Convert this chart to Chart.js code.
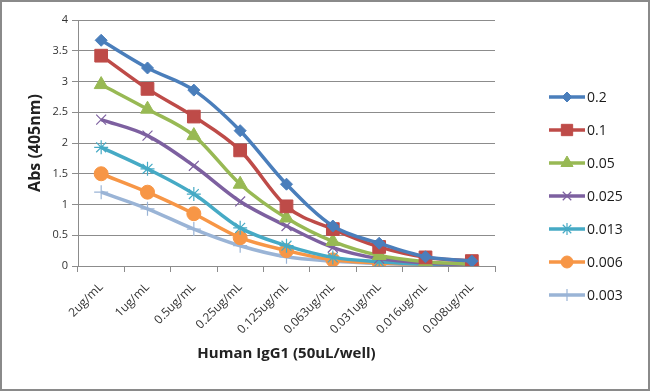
<!DOCTYPE html>
<html><head><meta charset="utf-8">
<script src="https://cdn.jsdelivr.net/npm/chart.js@4/dist/chart.umd.min.js"></script>
<style>html,body{margin:0;padding:0;background:#fff}#wrap{width:650px;height:391px;position:relative}</style>
</head><body><div id="wrap"><canvas id="c" width="650" height="391"></canvas></div>
<script>
const categories = ["2ug/mL","1ug/mL","0.5ug/mL","0.25ug/mL","0.125ug/mL","0.063ug/mL","0.031ug/mL","0.016ug/mL","0.008ug/mL"];
const seriesNames = ["0.2","0.1","0.05","0.025","0.013","0.006","0.003"];
const s02   = [3.67, 3.22, 2.86, 2.20, 1.33, 0.65, 0.37, 0.15, 0.08];
const s01   = [3.42, 2.88, 2.43, 1.88, 0.97, 0.60, 0.31, 0.14, 0.08];
const s005  = [2.95, 2.55, 2.12, 1.33, 0.78, 0.40, 0.17, 0.07, 0.03];
const s0025 = [2.38, 2.12, 1.63, 1.05, 0.65, 0.30, 0.12, 0.05, 0.02];
const s0013 = [1.93, 1.58, 1.17, 0.62, 0.33, 0.14, 0.07, 0.03, 0.02];
const s0006 = [1.50, 1.20, 0.85, 0.46, 0.25, 0.10, 0.05, 0.03, 0.01];
const s0003 = [1.20, 0.93, 0.60, 0.33, 0.15, 0.08, 0.04, 0.02, 0.01];
const yTicks = [0,0.5,1,1.5,2,2.5,3,3.5,4];

const values = [s02,s01,s005,s0025,s0013,s0006,s0003];
const colors = ["#4a7ebb","#be4b48","#98b954","#7d60a0","#46aac5","#f79646","#9ab4d6"];
const styles = ["rectRot","rect","triangle","crossRot","star","circle","cross"];
const radii  = [6,9,8,7,7,7,7];

const datasets = values.map((v,i)=>({
  label: seriesNames[i], data: v,
  borderColor: colors[i], backgroundColor: colors[i],
  borderWidth: 3.5, pointStyle: styles[i], pointRadius: radii[i],
  pointBorderColor: colors[i], pointBackgroundColor: colors[i],
  pointBorderWidth: (styles[i]==="crossRot"||styles[i]==="star"||styles[i]==="cross")?1.2:1,
  tension: 0.2, cubicInterpolationMode: 'monotone'
}));

const frame = {
  id:'frame',
  afterDraw(chart){
    const ctx = chart.ctx;
    ctx.save();
    ctx.strokeStyle = '#8a8a8a'; ctx.lineWidth = 2;
    ctx.strokeRect(1,1,648,389);
    const x0 = 549, x1 = 585, ys = [97,130,163,196,229,262,295];
    chart.data.datasets.forEach((d,i)=>{
      const y = ys[i];
      ctx.strokeStyle = d.borderColor; ctx.lineWidth = 3.5;
      ctx.beginPath(); ctx.moveTo(x0,y); ctx.lineTo(x1,y); ctx.stroke();
      ctx.fillStyle = d.borderColor; ctx.strokeStyle = d.borderColor;
      ctx.lineWidth = d.pointBorderWidth;
      Chart.helpers.drawPoint(ctx,{pointStyle:d.pointStyle, radius: d.pointRadius-1, borderWidth:d.pointBorderWidth, rotation:0}, (x0+x1)/2, y);
      ctx.fillStyle = '#1a1a1a';
      ctx.font = '14px "Open Sans", Lato, sans-serif';
      ctx.textBaseline = 'middle'; ctx.textAlign = 'left';
      ctx.fillText(d.label, 587, y+1);
    });
    ctx.restore();
  }
};

new Chart(document.getElementById('c'), {
  type:'line',
  data:{labels:categories, datasets},
  options:{
    responsive:false, animation:false,
    layout:{padding:{top:20,right:155,left:0,bottom:0}},
    plugins:{legend:{display:false}, tooltip:{enabled:false}},
    scales:{
      x:{
        offset:true,
        grid:{offset:true, drawOnChartArea:false, drawTicks:true, tickLength:6, color:'#8c8c8c'},
        border:{color:'#8c8c8c', width:1},
        ticks:{maxRotation:45, minRotation:45, color:'#333', font:{family:'"Open Sans", Lato, sans-serif', size:12}, padding:8},
        title:{display:true, text:'Human IgG1 (50uL/well)', color:'#222', font:{family:'"Open Sans", Lato, sans-serif', size:15, weight:'bold'}, padding:{top:0,bottom:28}},
        afterFit(s){ s.height = 125; }
      },
      y:{
        min:0, max:4,
        afterBuildTicks(s){ s.ticks = yTicks.map(v=>({value:v})); },
        grid:{color:'#8c8c8c', tickLength:6, lineWidth:1},
        border:{color:'#8c8c8c', width:1},
        ticks:{color:'#333', font:{family:'"Open Sans", Lato, sans-serif', size:11}, padding:4, callback:(v)=>String(v)},
        title:{display:true, text:'Abs (405nm)', color:'#222', font:{family:'"Open Sans", Lato, sans-serif', size:16, weight:'bold'}, padding:{top:26,bottom:0}},
        afterFit(s){ s.width = 78; }
      }
    }
  },
  plugins:[frame]
});
</script></body></html>
